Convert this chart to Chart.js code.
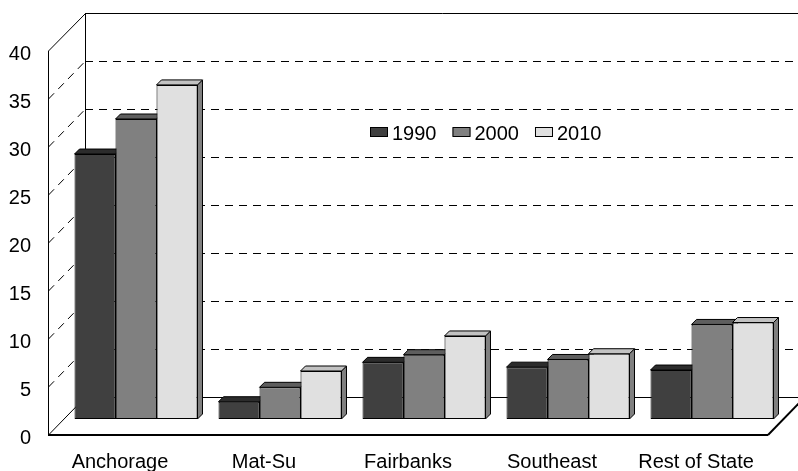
<!DOCTYPE html>
<html>
<head>
<meta charset="utf-8">
<script src="https://cdn.jsdelivr.net/npm/chart.js@4.4.1/dist/chart.umd.min.js"></script>
<style>
    body { margin: 0; background: #ffffff; }
    canvas { display: block; }
</style>
</head>
<body>
<canvas id="barChart" width="798" height="471"></canvas>
<script>
const regions = ['Anchorage', 'Mat-Su', 'Fairbanks', 'Southeast', 'Rest of State'];
const years = ['1990', '2000', '2010'];
const values1990 = [27.6, 1.8, 5.9, 5.4, 5.1];
const values2000 = [31.25, 3.3, 6.7, 6.2, 9.85];
const values2010 = [34.8, 5.0, 8.65, 6.8, 10.05];
const yTicks = [0, 5, 10, 15, 20, 25, 30, 35, 40];

const frontColors = ['#404040', '#808080', '#e0e0e0'];
const topColors = ['#2c2c2c', '#5e5e5e', '#c2c2c2'];
const sideColors = ['#1e1e1e', '#4a4a4a', '#808080'];

const FONT = "'Liberation Sans', Arial, sans-serif";
// offsets of the front plane and back wall relative to the plane the bars stand in
const FRONT = { x: -16, y: 16 };
const BACK = { x: 21, y: -22 };
const BAR_DEPTH = 5;

function line(ctx, x1, y1, x2, y2) {
    ctx.beginPath();
    ctx.moveTo(x1, y1);
    ctx.lineTo(x2, y2);
    ctx.stroke();
}

function poly(ctx, pts, fill) {
    ctx.beginPath();
    ctx.moveTo(pts[0][0], pts[0][1]);
    for (let i = 1; i < pts.length; i++) ctx.lineTo(pts[i][0], pts[i][1]);
    ctx.closePath();
    ctx.fillStyle = fill;
    ctx.fill();
    ctx.stroke();
}

const boxPlugin = {
    id: 'box3d',
    beforeDatasetsDraw(chart) {
        const ctx = chart.ctx;
        const xa = chart.scales.x;
        const ya = chart.scales.y;
        const area = chart.chartArea;
        const left = area.left, right = area.right;
        const y0 = ya.getPixelForValue(0);
        const yMax = ya.getPixelForValue(40);

        ctx.save();
        ctx.strokeStyle = '#000000';
        ctx.lineWidth = 1;

        // back wall gridlines
        ctx.setLineDash([8, 6]);
        yTicks.forEach(v => {
            if (v === 0 || v === 40) return;
            const y = Math.round(ya.getPixelForValue(v) + BACK.y) + 0.5;
            line(ctx, left + BACK.x, y, right + BACK.x + 10, y);
            // left wall diagonal
            line(ctx, left + FRONT.x + 0.5, ya.getPixelForValue(v) + FRONT.y,
                left + BACK.x + 0.5, ya.getPixelForValue(v) + BACK.y);
        });
        ctx.setLineDash([]);

        // wall outlines
        const bx = left + BACK.x + 0.5;
        const fx = left + FRONT.x + 0.5;
        line(ctx, bx, yMax + BACK.y + 0.5, right + BACK.x + 10, yMax + BACK.y + 0.5);
        line(ctx, bx, yMax + BACK.y, bx, y0 + BACK.y);
        line(ctx, fx, yMax + FRONT.y, bx, yMax + BACK.y + 0.5);
        line(ctx, fx, yMax + FRONT.y, fx, y0 + FRONT.y);
        line(ctx, fx, y0 + FRONT.y, bx, y0 + BACK.y);
        line(ctx, bx, y0 + BACK.y + 0.5, right + BACK.x + 10, y0 + BACK.y + 0.5);

        ctx.lineWidth = 2;
        line(ctx, left + FRONT.x, y0 + FRONT.y, right + FRONT.x, y0 + FRONT.y);
        line(ctx, right + FRONT.x, y0 + FRONT.y, right + BACK.x, y0 + BACK.y);

        // top and side faces of the bars
        ctx.lineWidth = 1;
        regions.forEach((r, j) => {
            chart.data.datasets.forEach((ds, i) => {
                const bar = chart.getDatasetMeta(i).data[j];
                const p = bar.getProps(['x', 'y', 'base', 'width'], true);
                const L = p.x - p.width / 2, R = p.x + p.width / 2;
                const t = p.y, b = p.base;
                poly(ctx, [[R, t], [R + BAR_DEPTH, t - BAR_DEPTH], [R + BAR_DEPTH, b - BAR_DEPTH], [R, b]], sideColors[i]);
                poly(ctx, [[L, t], [R, t], [R + BAR_DEPTH, t - BAR_DEPTH], [L + BAR_DEPTH, t - BAR_DEPTH]], topColors[i]);
            });
        });
        ctx.restore();
    },
    afterDraw(chart) {
        const ctx = chart.ctx;
        const xa = chart.scales.x;
        const ya = chart.scales.y;
        ctx.save();
        ctx.fillStyle = '#000000';
        ctx.font = '20px ' + FONT;

        // value axis labels on the front plane
        ctx.textAlign = 'right';
        ctx.textBaseline = 'alphabetic';
        yTicks.forEach(v => {
            ctx.fillText(String(v), 31, ya.getPixelForValue(v) + FRONT.y + 8.5);
        });

        // category labels
        ctx.textAlign = 'center';
        regions.forEach((r, j) => {
            ctx.fillText(r, xa.getPixelForValue(j) + FRONT.x, 468);
        });

        // legend
        ctx.textAlign = 'left';
        let x = 370;
        const y = 132;
        chart.data.datasets.forEach((ds, i) => {
            ctx.fillStyle = ds.backgroundColor;
            ctx.fillRect(x, y - 4.5, 18, 9);
            ctx.strokeStyle = '#000000';
            ctx.lineWidth = 1;
            ctx.strokeRect(x + 0.5, y - 4.5, 17, 9);
            ctx.fillStyle = '#000000';
            ctx.fillText(ds.label, x + 22, y + 8);
            x += 22 + ctx.measureText(ds.label).width + 16;
        });
        ctx.restore();
    }
};

const ctx = document.getElementById('barChart').getContext('2d');
const chart = new Chart(ctx, {
    type: 'bar',
    data: {
        labels: regions,
        datasets: [values1990, values2000, values2010].map((vals, i) => ({
            label: years[i],
            data: vals,
            backgroundColor: frontColors[i],
            borderColor: '#000000',
            borderWidth: 1,
            borderSkipped: false,
            categoryPercentage: 0.854,
            barPercentage: 1
        }))
    },
    options: {
        responsive: false,
        animation: false,
        layout: {
            padding: { left: 64, right: 14, top: 35, bottom: 52 }
        },
        scales: {
            x: { display: false },
            y: { display: false, min: 0, max: 40 }
        },
        plugins: {
            legend: { display: false },
            tooltip: { enabled: false }
        }
    },
    plugins: [boxPlugin]
});
</script>
</body>
</html>
